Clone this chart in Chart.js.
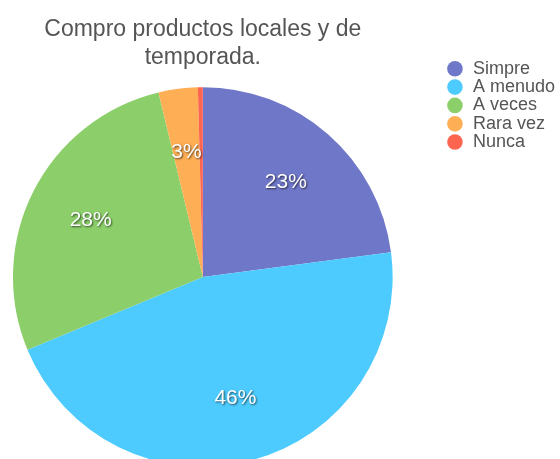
<!DOCTYPE html>
<html>
<head>
<meta charset="utf-8">
<script src="https://cdn.jsdelivr.net/npm/chart.js@4/dist/chart.umd.min.js"></script>
<style>
  html, body { margin: 0; padding: 0; overflow: hidden; background: #fff; }
  #wrap { position: relative; width: 560px; height: 470px; }
</style>
</head>
<body>
<div id="wrap"><canvas id="chart"></canvas></div>
<script>
const titleLines = ['Compro productos locales y de', 'temporada.']
const categories = ['Simpre', 'A menudo', 'A veces', 'Rara vez', 'Nunca']
const responses = [55, 110, 66, 8, 1]
const colors = ['#6f77c8', '#4dcbfe', '#8ccf6a', '#feaf55', '#fe6550']

const FONT = '"Liberation Sans", Arial, Helvetica, sans-serif'

// empty box between the pie and the legend
const legendGap = {
    id: 'legendGap',
    beforeInit(chart) {
        Chart.layouts.addBox(chart, {
            id: 'gap',
            position: 'right',
            weight: 0,
            fullSize: false,
            options: {},
            top: 0, left: 0, right: 0, bottom: 0, width: 0, height: 0,
            isHorizontal: () => false,
            update(maxWidth, maxHeight) { this.width = 53; this.height = maxHeight },
            draw() {}
        })
    }
}

// percentage text on each slice
const sliceLabels = {
    id: 'sliceLabels',
    afterDatasetsDraw(chart) {
        const ctx = chart.ctx
        const values = chart.data.datasets[0].data
        const total = values.reduce((a, b) => a + b, 0)
        chart.getDatasetMeta(0).data.forEach((arc, i) => {
            const pct = Math.round(values[i] / total * 100)
            if (pct < 1) return
            const { x, y, startAngle, endAngle, outerRadius } =
                arc.getProps(['x', 'y', 'startAngle', 'endAngle', 'outerRadius'], true)
            const mid = (startAngle + endAngle) / 2
            const r = outerRadius * 0.663
            ctx.save()
            ctx.font = '21px ' + FONT
            ctx.textAlign = 'center'
            ctx.textBaseline = 'middle'
            ctx.shadowColor = 'rgba(0,0,0,0.65)'
            ctx.shadowOffsetX = 1
            ctx.shadowOffsetY = 1
            ctx.shadowBlur = 2
            ctx.fillStyle = '#ffffff'
            ctx.fillText(pct + '%', x + Math.cos(mid) * r, y + Math.sin(mid) * r)
            ctx.restore()
        })
    }
}

new Chart(document.getElementById('chart'), {
    type: 'pie',
    data: {
        labels: categories,
        datasets: [{
            data: responses,
            backgroundColor: colors,
            borderWidth: 0
        }]
    },
    options: {
        responsive: true,
        maintainAspectRatio: false,
        animation: false,
        events: [],
        layout: { padding: { left: 13, right: -5, top: 0, bottom: 3 } },
        plugins: {
            title: {
                display: true,
                text: titleLines,
                fullSize: false,
                color: '#555555',
                font: { family: FONT, size: 23, weight: 'normal', lineHeight: 28 / 23 },
                padding: { top: 15.5, bottom: 15.5 }
            },
            legend: {
                position: 'right',
                align: 'start',
                title: { display: true, text: '', font: { size: 12, lineHeight: 1 }, padding: { top: 47.5, bottom: 0 } },
                labels: {
                    usePointStyle: true,
                    pointStyle: 'circle',
                    boxWidth: 18,
                    boxHeight: 11,
                    padding: 0.3,
                    color: '#555555',
                    font: { family: FONT, size: 18 }
                }
            },
            tooltip: { enabled: false }
        }
    },
    plugins: [legendGap, sliceLabels]
})
</script>
</body>
</html>
